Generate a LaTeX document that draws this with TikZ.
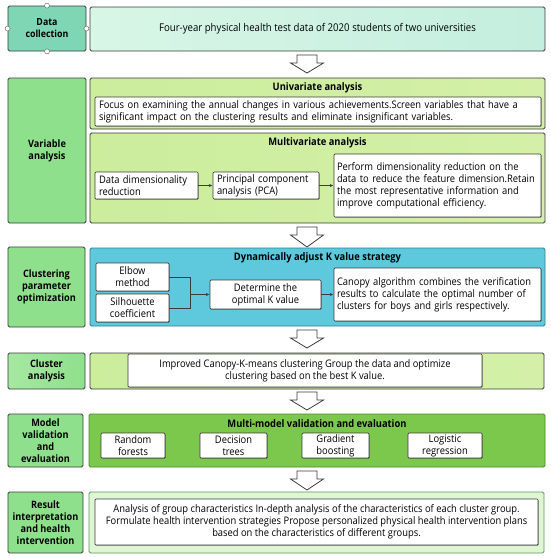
\documentclass[tikz,border=0pt]{standalone}
\usepackage{fontspec}
\setmainfont{Open Sans}[FakeStretch=0.9]
\usetikzlibrary{shadows,arrows.meta}
\definecolor{dcleft}{HTML}{7ED6B4}
\definecolor{dcrA}{HTML}{D8F6E6}
\definecolor{dcrB}{HTML}{C4EEDF}
\definecolor{gleft}{HTML}{8FE08C}
\definecolor{gleftB}{HTML}{A6E8A2}
\definecolor{lime}{HTML}{CBED9C}
\definecolor{limeB}{HTML}{D4F0A8}
\definecolor{bluefill}{HTML}{5EC8DC}
\definecolor{blueline}{HTML}{2F7F90}
\definecolor{modfill}{HTML}{7CC84C}
\definecolor{modline}{HTML}{4A8A2C}
\definecolor{resfill}{HTML}{E0F4D6}
\definecolor{resline}{HTML}{5C9A50}
\definecolor{edge}{HTML}{3C3C3C}
\newcommand\harrowat[3]{%
  \draw[harrow] (#1-10,#2) -- (#1+10,#2) -- (#1+10,#2+8) -- (#1+16.5,#2+8) -- (#1,#3) -- (#1-16.5,#2+8) -- (#1-10,#2+8) -- cycle;}
\begin{document}
\begin{tikzpicture}[x=1pt,y=-1pt,
  lbox/.style={draw=edge, line width=0.8pt, rounded corners=1.5pt, inner sep=0pt, align=center,
     font=\fontsize{10.2}{12}\selectfont\bfseries},
  outer/.style={draw=edge, line width=0.8pt, rounded corners=1.5pt, inner sep=0pt},
  wbox/.style={draw=edge, fill=white, line width=0.7pt, rounded corners=1pt, inner sep=0pt,
     font=\fontsize{10.4}{12}\selectfont, align=center,
     drop shadow={shadow xshift=0.7pt, shadow yshift=-0.7pt, opacity=0.45, fill=black}},
  ttl/.style={inner sep=0pt, font=\fontsize{10.4}{12}\selectfont\bfseries},
  harrow/.style={draw=edge, fill=white, line width=0.8pt, line join=miter},
  handle/.style={circle, draw=black!55, fill=white, line width=0.5pt, minimum size=5pt, inner sep=0pt},
  link/.style={draw=edge, line width=0.7pt},
  tip/.style={-{Latex[length=3.5pt,width=3pt]}}
]
\useasboundingbox[fill=white] (0,0) rectangle (550,558);

% ---------- Data collection
\node[lbox, fill=dcleft, minimum width=78pt, minimum height=45pt, font=\fontsize{9.8}{12}\selectfont\bfseries] (dc) at (47,28.5) {Data\\collection};
\node[outer, left color=dcrA, right color=dcrB, minimum width=455pt, minimum height=44pt,
      font=\fontsize{10.7}{12}\selectfont] (dcr) at (317.5,29)
      {Four-year physical health test data of 2020 students of two universities};
\node[handle] (h1) at (dc.north) {};
\node[handle] (h2) at (dc.south) {};
\node[handle] (h3) at (dc.west) {};
\node[handle] (h4) at (dc.east) {};
\harrowat{307}{55}{73}

% ---------- Variable analysis
\node[lbox, fill=gleft, minimum width=78pt, minimum height=145pt] (va) at (47,150.5) {Variable\\analysis};
\node[outer, left color=lime, right color=limeB, minimum width=455pt, minimum height=51pt] (uni) at (317.5,103.5) {};
\node[ttl] (unit) at (317.5,88) {Univariate analysis};
\node[wbox, minimum width=446pt, minimum height=29pt, text width=438pt, align=left] (unitx) at (318,111.5)
 {Focus on examining the annual changes in various achievements.Screen variables that have a\\
  significant impact on the clustering results and eliminate insignificant variables.};
\node[outer, left color=lime, right color=limeB, minimum width=455pt, minimum height=90pt] (mul) at (317.5,178) {};
\node[ttl] (mult) at (317.5,143) {Multivariate analysis};
\node[wbox, minimum width=103pt, minimum height=27pt, text width=95pt, align=left] (ddr) at (146.5,185.5)
 {Data dimensionality\\reduction};
\node[wbox, minimum width=106pt, minimum height=27pt, text width=98pt, align=left] (pca) at (266,185.5)
 {Principal component\\analysis (PCA)};
\node[wbox, minimum width=207pt, minimum height=63pt, text width=201pt, align=left] (perf) at (437.5,185.5)
 {Perform dimensionality reduction on the\\data to reduce the feature dimension.Retain\\the most representative information and\\improve computational efficiency.};
\draw[link, tip] (ddr) -- (pca);
\draw[link, tip] (pca) -- (perf);
\harrowat{307}{227}{247}

% ---------- Clustering parameter optimization
\node[lbox, fill=gleft, minimum width=77pt, minimum height=80pt] (cpo) at (46.5,287) {Clustering\\parameter\\optimization};
\node[draw=blueline, line width=0.9pt, rounded corners=1.5pt, inner sep=0pt, fill=bluefill,
      minimum width=455pt, minimum height=78pt] (dyn) at (317.5,287) {};
\node[ttl] (dynt) at (317.5,258) {Dynamically adjust K value strategy};
\node[wbox, minimum width=73pt, minimum height=28pt] (elb) at (132.5,277) {Elbow\\method};
\node[wbox, minimum width=73pt, minimum height=28pt] (sil) at (132.5,308) {Silhouette\\coefficient};
\coordinate (j) at (190,294.5);
\node[wbox, minimum width=111pt, minimum height=29pt] (det) at (265.5,294.5) {Determine the\\optimal K value};
\node[wbox, minimum width=207pt, minimum height=53pt, text width=201pt, align=left] (can) at (437.5,294.5)
 {Canopy algorithm combines the verification\\results to calculate the optimal number of\\clusters for boys and girls respectively.};
\draw[link] (elb.east) -| (j);
\draw[link] (sil.east) -| (j);
\draw[link, tip] (j) -- (det);
\draw[link, tip] (det) -- (can);
\harrowat{307}{330}{348}

% ---------- Cluster analysis
\node[lbox, left color=gleftB, right color=gleft, minimum width=77pt, minimum height=36pt] (ca) at (46.5,371) {Cluster\\analysis};
\node[outer, left color=lime, right color=limeB, minimum width=454pt, minimum height=36pt] (car) at (317,371) {};
\node[wbox, minimum width=354pt, minimum height=33pt] (cat) at (305,370.5)
 {Improved Canopy-K-means clustering Group the data and optimize\\clustering based on the best K value.};
\harrowat{307}{392}{410}

% ---------- Model validation
\node[lbox, fill=gleft, minimum width=75pt, minimum height=53pt] (mv) at (45.5,440.5) {Model\\validation\\and\\evaluation};
\node[draw=modline, line width=0.9pt, rounded corners=1.5pt, inner sep=0pt, fill=modfill,
      minimum width=456pt, minimum height=53pt] (mvr) at (317,440.5) {};
\node[ttl] (mvt) at (317,424) {Multi-model validation and evaluation};
\node[wbox, minimum width=64pt, minimum height=25pt] (rf) at (133,445.5) {Random\\forests};
\node[wbox, minimum width=67pt, minimum height=25pt] (dt) at (233.5,445.5) {Decision\\trees};
\node[wbox, minimum width=67pt, minimum height=25pt] (gb) at (335.5,445.5) {Gradient\\boosting};
\node[wbox, minimum width=74pt, minimum height=25pt] (lr) at (445,445.5) {Logistic\\regression};
\harrowat{307}{471}{490}

% ---------- Result interpretation
\node[lbox, fill=gleft, minimum width=75pt, minimum height=61pt] (ri) at (45.5,522.5) {Result\\interpretation\\and health\\intervention};
\node[draw=resline, line width=0.9pt, rounded corners=1.5pt, inner sep=0pt, fill=resfill,
      minimum width=455pt, minimum height=61pt] (rir) at (316.5,522.5) {};
\node[wbox, minimum width=443pt, minimum height=46pt] (rit) at (316.5,522)
 {Analysis of group characteristics In-depth analysis of the characteristics of each cluster group.\\
  Formulate health intervention strategies Propose personalized physical health intervention plans\\
  based on the characteristics of different groups.};
\end{tikzpicture}
\end{document}
